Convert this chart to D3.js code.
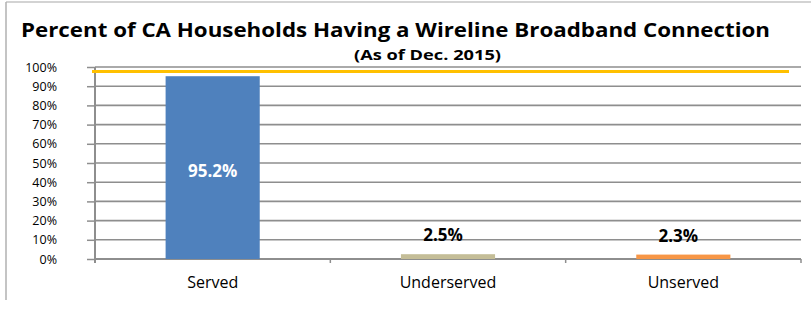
<!DOCTYPE html>
<html>
<head>
<meta charset="utf-8">
<script src="https://cdn.jsdelivr.net/npm/d3@7"></script>
<style>
  body { margin: 0; background: #fff; }
  svg { display: block; font-family: "Open Sans", "Noto Sans", sans-serif; }
</style>
</head>
<body>
<svg id="chart" width="811" height="310"></svg>
<script>
// data
const categories = ["Served", "Underserved", "Unserved"];
const percents = [95.2, 2.5, 2.3];
const barColors = ["#4F81BD", "#C4BD97", "#F79646"];
const goalValue = 97.6;
const yTicks = [0, 10, 20, 30, 40, 50, 60, 70, 80, 90, 100];

const margin = { top: 67, right: 10, bottom: 51, left: 95 };
const width = 801 - margin.left;
const height = 259 - margin.top;

const root = d3.select("#chart");

// frame lines round the chart area
root.append("line")
    .attr("x1", 6).attr("x2", 811).attr("y1", 2).attr("y2", 2)
    .attr("stroke", "#c4c4c4").attr("stroke-width", 1.5);
root.append("line")
    .attr("x1", 6).attr("x2", 6).attr("y1", 2).attr("y2", 300)
    .attr("stroke", "#b0b0b0").attr("stroke-width", 1.5);

// title + subtitle
root.append("text")
    .attr("x", 21).attr("y", 37)
    .attr("textLength", 749).attr("lengthAdjust", "spacingAndGlyphs")
    .style("font-size", "20px").style("font-weight", "bold").style("fill", "#000")
    .text("Percent of CA Households Having a Wireline Broadband Connection");

root.append("text")
    .attr("x", 354).attr("y", 60)
    .attr("textLength", 147).attr("lengthAdjust", "spacingAndGlyphs")
    .style("font-size", "14px").style("font-weight", "bold")
    .text("(As of Dec. 2015)");

const svg = root.append("g")
    .attr("transform", `translate(${margin.left},${margin.top})`);

const xScale = d3.scaleBand()
    .domain(categories)
    .range([0, width])
    .paddingInner(0.6)
    .paddingOuter(0.3);

const yScale = d3.scaleLinear()
    .domain([0, 100])
    .range([height, 0]);

// gridlines
svg.append("g")
    .selectAll("line")
    .data(yTicks.filter(d => d > 0))
    .join("line")
    .attr("x1", 0).attr("x2", width)
    .attr("y1", d => yScale(d)).attr("y2", d => yScale(d))
    .attr("stroke", "#8e8e8e")
    .attr("stroke-width", 1.6);

// y axis
const yAxis = svg.append("g")
    .call(d3.axisLeft(yScale).tickValues(yTicks).tickSize(8).tickFormat(d => d + "%"));
yAxis.select(".domain").remove();
yAxis.selectAll(".tick line").attr("stroke", "#8e8e8e").attr("stroke-width", 1.5);
yAxis.selectAll(".tick text")
    .attr("x", -38)
    .style("font-size", "12.5px").style("fill", "#000").style("font-family", "'Open Sans', sans-serif");
svg.append("line")
    .attr("x1", 0).attr("x2", 0).attr("y1", 0).attr("y2", height + 4)
    .attr("stroke", "#8e8e8e").attr("stroke-width", 2);

// x axis: ticks on category boundaries
svg.append("line")
    .attr("x1", 0).attr("x2", width).attr("y1", height).attr("y2", height)
    .attr("stroke", "#8e8e8e").attr("stroke-width", 2);
const step = xScale.step();
svg.append("g")
    .selectAll("line")
    .data(d3.range(1, categories.length + 1))
    .join("line")
    .attr("x1", i => i * step).attr("x2", i => i * step)
    .attr("y1", height).attr("y2", height + 4)
    .attr("stroke", "#8e8e8e").attr("stroke-width", 1.5);

svg.append("g")
    .selectAll("text")
    .data(categories)
    .join("text")
    .attr("x", d => xScale(d) + xScale.bandwidth() / 2)
    .attr("y", height + 29)
    .attr("text-anchor", "middle")
    .style("font-size", "16px")
    .text(d => d);

// bars
const rows = categories.map((c, i) => ({ cat: c, val: percents[i], color: barColors[i] }));
svg.append("g")
    .selectAll("rect")
    .data(rows)
    .join("rect")
    .attr("x", d => xScale(d.cat))
    .attr("width", xScale.bandwidth())
    .attr("y", d => yScale(d.val))
    .attr("height", d => height - yScale(d.val))
    .attr("fill", d => d.color);

// goal line
svg.append("line")
    .attr("x1", -3).attr("x2", width - 12)
    .attr("y1", yScale(goalValue)).attr("y2", yScale(goalValue))
    .attr("stroke", "#FFC000").attr("stroke-width", 3);

// value labels
svg.append("g")
    .selectAll("text")
    .data(rows)
    .join("text")
    .attr("x", d => xScale(d.cat) + xScale.bandwidth() / 2 - (d.val > 50 ? 0 : 5))
    .attr("y", d => d.val > 50 ? yScale(d.val / 2) + 9 : yScale(d.val) - 13)
    .attr("text-anchor", "middle")
    .style("font-size", "17px").style("font-weight", "bold")
    .style("fill", d => d.val > 50 ? "#fff" : "#000")
    .text(d => d.val + "%");
</script>
</body>
</html>
